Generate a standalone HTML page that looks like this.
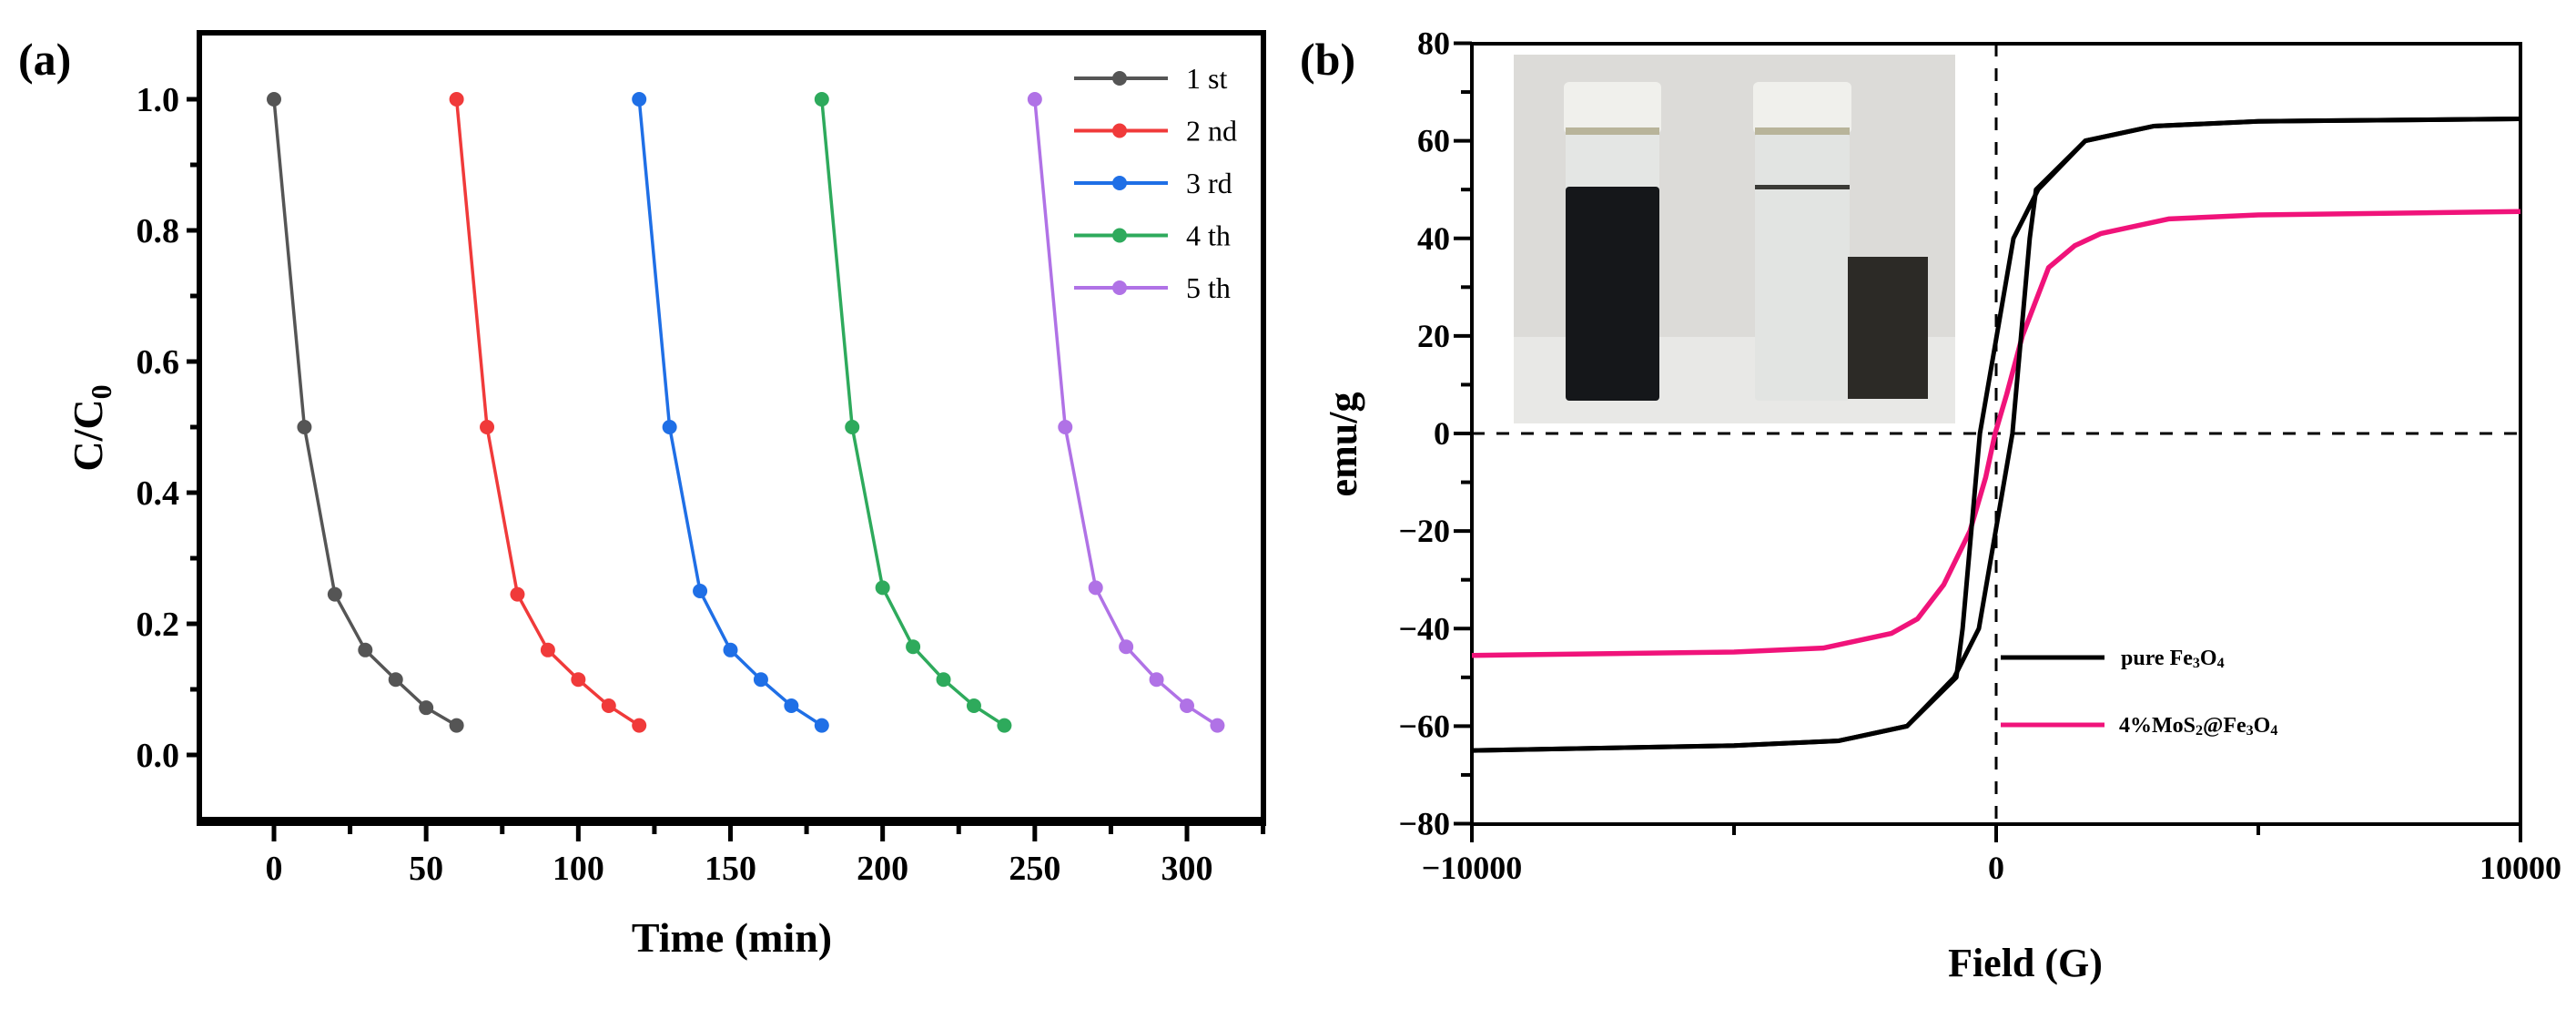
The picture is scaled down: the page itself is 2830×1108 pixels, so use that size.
<!DOCTYPE html>
<html><head><meta charset="utf-8"><style>
html,body{margin:0;padding:0;background:#fff;}
svg{display:block;font-family:"Liberation Serif",serif;font-weight:bold;}
</style></head><body>
<svg id="fig" width="2830" height="1108" viewBox="0 0 2830 1108" xmlns="http://www.w3.org/2000/svg">
<g id="pa"></g>
<g id="pb"></g>
</svg>
<script>
// ---------- Panel (a) data ----------
const cycleNames = ["1 st","2 nd","3 rd","4 th","5 th"];
const cycleColors = ["#555555","#f03a3a","#1f6fe6","#2eaa5c","#b072e6"];
const cycleStarts = [0,60,120,180,250];
const cycleOffsets = [0,10,20,30,40,50,60];
const cycle1 = [1.0,0.50,0.245,0.16,0.115,0.072,0.045];
const cycle2 = [1.0,0.50,0.245,0.16,0.115,0.075,0.045];
const cycle3 = [1.0,0.50,0.25,0.16,0.115,0.075,0.045];
const cycle4 = [1.0,0.50,0.255,0.165,0.115,0.075,0.045];
const cycle5 = [1.0,0.50,0.255,0.165,0.115,0.075,0.045];
const cycleValues = [cycle1,cycle2,cycle3,cycle4,cycle5];
const aXTicks = [0,50,100,150,200,250,300];
const aYTicks = [0.0,0.2,0.4,0.6,0.8,1.0];

// ---------- Panel (b) data ----------
const fe3o4DescH = [10000,5000,3000,1700,800,330,-310,-640,-760,-1700,-3000,-5000,-10000];
const fe3o4DescM = [64.5,64,63,60,50,40,0,-40,-50,-60,-63,-64,-65];
const fe3o4AscH = [-10000,-5000,-3000,-1700,-800,-330,310,640,760,1700,3000,5000,10000];
const fe3o4AscM = [-65,-64,-63,-60,-50,-40,0,40,50,60,63,64,64.5];
const mosH = [-10000,-5000,-3300,-2000,-1500,-1000,-500,-200,-20,200,500,1000,1500,2000,3300,5000,10000];
const mosM = [-45.5,-44.8,-44,-41,-38,-31,-20,-9,0,8,20,34,38.5,41,44,44.8,45.5];
const bXTicks = [-10000,0,10000];
const bYTicks = [-80,-60,-40,-20,0,20,40,60,80];

const NS="http://www.w3.org/2000/svg";
function el(tag,attrs,parent,text){const e=document.createElementNS(NS,tag);for(const k in attrs)e.setAttribute(k,attrs[k]);if(text!==undefined)e.textContent=text;parent.appendChild(e);return e;}

// ===== Panel A =====
const pa=document.getElementById('pa');
const aL=219,aR=1388,aT=36,aB=902;
const ax=t=>301+(t-0)*(1304-301)/300;
const ay=v=>829-v*720;
let t=el('text',{x:20,y:82,'font-size':50},pa,'(a)');

let fr=el('rect',{x:aL,y:aT,width:aR-aL,height:aB-aT,fill:'none',stroke:'#000','stroke-width':6},pa);

el('line',{x1:aL-3,x2:aR+3,y1:aB,y2:aB,stroke:'#000','stroke-width':10},pa);
for(let v=0;v<=1.05;v+=0.1){const y=ay(v);el('line',{x1:aL-10,x2:aL,y1:y,y2:y,stroke:'#000','stroke-width':5},pa);}
aYTicks.forEach(v=>{const y=ay(v);el('line',{x1:aL-14,x2:aL,y1:y,y2:y,stroke:'#000','stroke-width':5},pa);
 const tt=el('text',{x:aL-22,y:y+13,'font-size':38,'text-anchor':'end'},pa,v.toFixed(1));
 });
for(let m=-25;m<=325;m+=25){const x=ax(m);if(x<aL-1||x>aR+1)continue;el('line',{x1:x,x2:x,y1:aB,y2:aB+(m%50===0?22:14),stroke:'#000','stroke-width':5},pa);}
aXTicks.forEach(m=>{const tt=el('text',{x:ax(m),y:966,'font-size':38,'text-anchor':'middle'},pa,String(m));
 });
t=el('text',{x:804,y:1045,'font-size':46,'text-anchor':'middle'},pa,'Time (min)');

t=el('text',{transform:'translate(112,470) rotate(-90)','font-size':46,'text-anchor':'middle'},pa);

t.innerHTML='C/C<tspan font-size="32" dy="10">0</tspan>';
cycleValues.forEach((vals,i)=>{
 const g=el('g',{},pa);
 
 const pts=vals.map((v,j)=>ax(cycleStarts[i]+cycleOffsets[j])+','+ay(v)).join(' ');
 el('polyline',{points:pts,fill:'none',stroke:cycleColors[i],'stroke-width':3.5},g);
 vals.forEach((v,j)=>{const c=el('circle',{cx:ax(cycleStarts[i]+cycleOffsets[j]),cy:ay(v),r:8,fill:cycleColors[i]},g);
  });
});
const lgA=el('g',{},pa);
cycleNames.forEach((n,i)=>{const y=86+i*57.5;
 const g=el('g',{},lgA);
 el('line',{x1:1180,x2:1283,y1:y,y2:y,stroke:cycleColors[i],'stroke-width':4},g);
 el('circle',{cx:1230,cy:y,r:8,fill:cycleColors[i]},g);
 el('text',{x:1303,y:y+11,'font-size':32,'font-weight':'normal'},g,n);});

// ===== Panel B =====
const pb=document.getElementById('pb');
const bL=1617,bR=2769,bT=48,bB=905;
const bx=h=>bL+(h+10000)*(bR-bL)/20000;
const by=m=>476-m*(bB-bT)/160;
t=el('text',{x:1428,y:82,'font-size':50},pb,'(b)');

// inset photo
const ph=el('g',{},pb);
el('rect',{x:1663,y:60,width:485,height:405,fill:'#dcdbd8'},ph);
el('rect',{x:1663,y:370,width:485,height:95,fill:'#e8e8e6'},ph);
el('rect',{x:1720,y:147,width:103,height:60,fill:'#e4e6e4'},ph);
el('rect',{x:1718,y:90,width:107,height:57,rx:6,fill:'#f0f0ec'},ph);
el('rect',{x:1720,y:140,width:103,height:8,fill:'#b8b49a'},ph);
el('rect',{x:1720,y:205,width:103,height:235,rx:4,fill:'#15171a'},ph);
el('rect',{x:1928,y:147,width:104,height:293,rx:4,fill:'#e2e4e2'},ph);
el('rect',{x:1926,y:90,width:108,height:57,rx:6,fill:'#f0f0ec'},ph);
el('rect',{x:1928,y:140,width:104,height:8,fill:'#b8b49a'},ph);
el('rect',{x:1928,y:203,width:104,height:5,fill:'#3a3a36'},ph);
el('rect',{x:2030,y:282,width:88,height:156,fill:'#2c2a26'},ph);
// frame
fr=el('rect',{x:bL,y:bT,width:bR-bL,height:bB-bT,fill:'none',stroke:'#000','stroke-width':4},pb);

for(let m=-80;m<=80;m+=10){const y=by(m);el('line',{x1:bL-(m%20===0?20:12),x2:bL,y1:y,y2:y,stroke:'#000','stroke-width':4},pb);}
bYTicks.forEach(m=>{const tt=el('text',{x:bL-24,y:by(m)+12,'font-size':36,'text-anchor':'end'},pb,(m<0?'\u2212':'')+Math.abs(m));
 });
for(let h=-10000;h<=10000;h+=5000){const x=bx(h);el('line',{x1:x,x2:x,y1:bB,y2:bB+(h%10000===0?20:12),stroke:'#000','stroke-width':4},pb);}
bXTicks.forEach(h=>{const tt=el('text',{x:bx(h),y:965,'font-size':36,'text-anchor':'middle'},pb,(h<0?'\u2212':'')+Math.abs(h));
 });
t=el('text',{x:2225,y:1072,'font-size':44,'text-anchor':'middle'},pb,'Field (G)');

t=el('text',{transform:'translate(1490,488) rotate(-90)','font-size':44,'text-anchor':'middle'},pb,'emu/g');

// dashed zero lines
let d=el('line',{x1:bL,x2:bR,y1:by(0),y2:by(0),stroke:'#000','stroke-width':3,'stroke-dasharray':'14 13'},pb);

d=el('line',{x1:bx(0),x2:bx(0),y1:bT,y2:bB,stroke:'#000','stroke-width':3,'stroke-dasharray':'14 13'},pb);

function curve(H,M,color,w,name){const p=el('polyline',{points:H.map((h,i)=>bx(h)+','+by(M[i])).join(' '),fill:'none',stroke:color,'stroke-width':w,'stroke-linejoin':'round'},pb);
 }
curve(mosH,mosM,'#f0137a',5.5,'mos2-fe3o4-curve');
curve(fe3o4DescH,fe3o4DescM,'#000',5,'fe3o4-descending-curve');
curve(fe3o4AscH,fe3o4AscM,'#000',5,'fe3o4-ascending-curve');
// legend b
const lgB=el('g',{},pb);
let g=el('g',{},lgB);
el('line',{x1:2198,x2:2312,y1:722,y2:722,stroke:'#000','stroke-width':5},g);
let tx=el('text',{x:2330,y:730,'font-size':24},g);tx.innerHTML='pure Fe<tspan font-size="16" dy="3">3</tspan><tspan dy="-3">O</tspan><tspan font-size="16" dy="3">4</tspan>';
g=el('g',{},lgB);
el('line',{x1:2198,x2:2312,y1:796,y2:796,stroke:'#f0137a','stroke-width':5},g);
tx=el('text',{x:2328,y:804,'font-size':24},g);tx.innerHTML='4%MoS<tspan font-size="16" dy="3">2</tspan><tspan dy="-3">@Fe</tspan><tspan font-size="16" dy="3">3</tspan><tspan dy="-3">O</tspan><tspan font-size="16" dy="3">4</tspan>';
</script>
</body></html>
